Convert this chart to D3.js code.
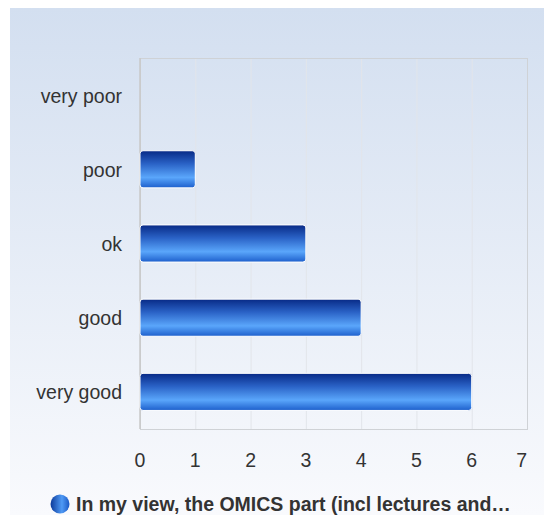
<!DOCTYPE html>
<html><head><meta charset="utf-8">
<script src="https://cdn.jsdelivr.net/npm/d3@7"></script>
<style>html,body{margin:0;padding:0;background:#fff;}svg{display:block;}</style>
</head><body>
<svg id="c" width="544" height="515"></svg>
<script>
const categories = ["very poor", "poor", "ok", "good", "very good"];
const values = [0, 1, 3, 4, 6];
const xTicks = [0, 1, 2, 3, 4, 5, 6, 7];
const seriesName = "In my view, the OMICS part (incl lectures and\u2026";

const svg = d3.select("#c");
const defs = svg.append("defs");
const bg = defs.append("linearGradient").attr("id","bg").attr("x1",0).attr("y1",0).attr("x2",0).attr("y2",1);
bg.append("stop").attr("offset","0%").attr("stop-color","#d3dff0");
bg.append("stop").attr("offset","100%").attr("stop-color","#f9fafd");
const bar = defs.append("linearGradient").attr("id","bar").attr("x1",0).attr("y1",0).attr("x2",0).attr("y2",1);
bar.append("stop").attr("offset","0%").attr("stop-color","#082a86");
bar.append("stop").attr("offset","35%").attr("stop-color","#2a62c6");
bar.append("stop").attr("offset","72%").attr("stop-color","#5aa6fb");
bar.append("stop").attr("offset","100%").attr("stop-color","#1d5fcc");
const leg = defs.append("linearGradient").attr("id","leg").attr("x1",0).attr("y1",0).attr("x2",1).attr("y2",0);
leg.append("stop").attr("offset","0%").attr("stop-color","#0c3a9a");
leg.append("stop").attr("offset","60%").attr("stop-color","#4f9af5");
leg.append("stop").attr("offset","100%").attr("stop-color","#1a58c4");

svg.append("rect").attr("x",10).attr("y",8).attr("width",534).attr("height",507).attr("fill","url(#bg)");

const m = {left:140, right:527, top:58, bottom:429};
const x = d3.scaleLinear().domain([0,7]).range([m.left, m.right]);
const y = d3.scaleBand().domain(categories).range([m.top, m.bottom]).paddingInner(0.5).paddingOuter(0.25);

// grid
svg.append("g").selectAll("line").data(xTicks).join("line")
  .attr("x1",d=>x(d)+0.5).attr("x2",d=>x(d)+0.5).attr("y1",m.top).attr("y2",m.bottom)
  .attr("stroke","#e2e5ea").attr("stroke-width",1);
svg.append("rect").attr("x",m.left+0.5).attr("y",m.top+0.5).attr("width",m.right-m.left).attr("height",m.bottom-m.top)
  .attr("fill","none").attr("stroke","#cfd2d6");
svg.append("line").attr("x1",m.left).attr("x2",m.left).attr("y1",m.top).attr("y2",m.bottom).attr("stroke","#c8c8c8").attr("stroke-width",1.5);

// bars
svg.append("g").selectAll("rect").data(values).join("rect")
  .attr("x",x(0)).attr("y",(d,i)=>y(categories[i]))
  .attr("width",d=>x(d)-x(0)).attr("height",y.bandwidth())
  .attr("rx",3).attr("ry",3)
  .attr("fill","url(#bar)").attr("stroke","#ffffff").attr("stroke-width",1);

const font = "Liberation Sans, Arial, sans-serif";
// y labels
svg.append("g").selectAll("text").data(categories).join("text")
  .attr("x",122).attr("y",d=>y(d)+y.bandwidth()/2).attr("dy","0.38em")
  .attr("text-anchor","end").attr("font-family",font)
  .attr("font-size",19.5).attr("fill","#333").text(d=>d);

// x labels (last one justified to stay inside the plot)
const lastTick = xTicks[xTicks.length-1];
svg.append("g").selectAll("text").data(xTicks).join("text")
  .attr("x",d=>d===lastTick ? x(d) : x(d)).attr("y",467)
  .attr("text-anchor",d=>d===lastTick ? "end" : "middle").attr("font-family",font)
  .attr("font-size",19.5).attr("fill","#333").text(d=>d);

// legend
svg.append("circle").attr("cx",60).attr("cy",504).attr("r",9.5).attr("fill","url(#leg)");
svg.append("text").attr("x",76).attr("y",511).attr("font-family",font)
  .attr("font-size",19.5).attr("font-weight","bold").attr("fill","#333").text(seriesName);
</script>
</body></html>
